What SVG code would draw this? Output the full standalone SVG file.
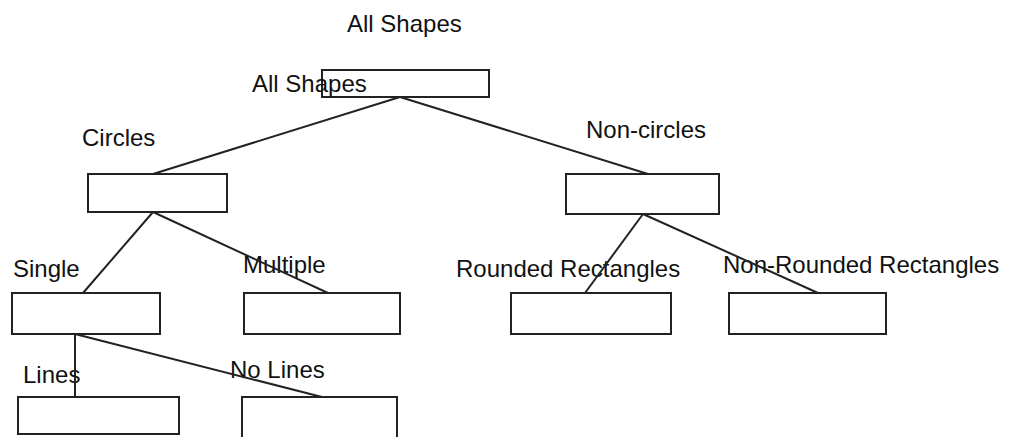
<svg xmlns="http://www.w3.org/2000/svg" width="1018" height="437" viewBox="0 0 1018 437">
<style>
.box{fill:#fff;stroke:#222;stroke-width:2}
.lbl{font-family:"Liberation Sans",Arial,sans-serif;font-size:24px;fill:#111}
.edge{stroke:#222;stroke-width:2;fill:none}
</style>
<rect width="1018" height="437" fill="#fff"/>
<text class="lbl" x="347" y="32">All Shapes</text>
<g id="root"><rect class="box" x="322" y="70" width="167" height="27"/><text class="lbl" x="252" y="92">All Shapes</text></g>
<g id="circles"><rect class="box" x="88" y="174" width="139" height="38"/><text class="lbl" x="82" y="146">Circles</text></g>
<g id="noncircles"><rect class="box" x="566" y="174" width="153" height="40"/><text class="lbl" x="586" y="138">Non-circles</text></g>
<g id="single"><rect class="box" x="12" y="293" width="148" height="41"/><text class="lbl" x="13" y="277">Single</text></g>
<g id="multiple"><rect class="box" x="244" y="293" width="156" height="41"/><text class="lbl" x="243" y="273">Multiple</text></g>
<g id="rounded"><rect class="box" x="511" y="293" width="160" height="41"/><text class="lbl" x="456" y="277">Rounded Rectangles</text></g>
<g id="nonrounded"><rect class="box" x="729" y="293" width="157" height="41"/><text class="lbl" x="723" y="273">Non-Rounded Rectangles</text></g>
<g id="lines"><rect class="box" x="18" y="397" width="161" height="37"/><text class="lbl" x="23" y="383">Lines</text></g>
<g id="nolines"><rect class="box" x="242" y="397" width="155" height="50"/><text class="lbl" x="230" y="378">No Lines</text></g>
<g id="connectors">
<line class="edge" x1="400" y1="97" x2="153" y2="174"/>
<line class="edge" x1="400" y1="97" x2="648" y2="174"/>
<line class="edge" x1="153" y1="212" x2="83" y2="293"/>
<line class="edge" x1="153" y1="212" x2="328" y2="293"/>
<line class="edge" x1="643" y1="214" x2="585" y2="293"/>
<line class="edge" x1="643" y1="214" x2="818" y2="293"/>
<line class="edge" x1="75" y1="334" x2="75" y2="397"/>
<line class="edge" x1="75" y1="334" x2="322" y2="397"/>
</g>
</svg>
